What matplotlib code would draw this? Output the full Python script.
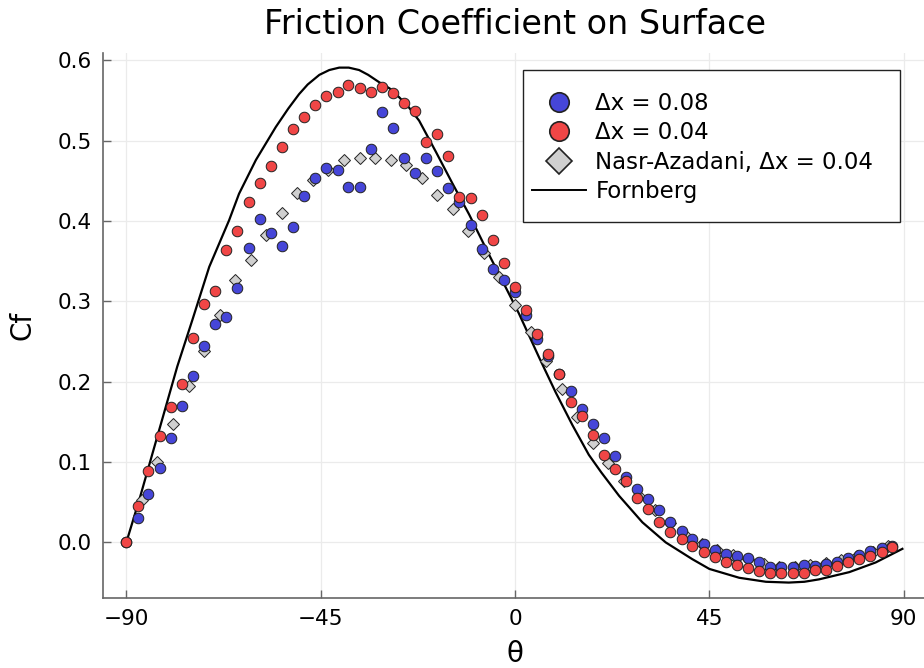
import matplotlib
matplotlib.use("Agg")
import matplotlib.pyplot as plt
from matplotlib.lines import Line2D
from matplotlib.patches import Rectangle

# --- data ---
theta_sim = [-90.0, -87.4, -84.9, -82.3, -79.7, -77.1, -74.6, -72.0, -69.4, -66.9,
             -64.3, -61.7, -59.1, -56.6, -54.0, -51.4, -48.9, -46.3, -43.7, -41.1,
             -38.6, -36.0, -33.4, -30.9, -28.3, -25.7, -23.1, -20.6, -18.0, -15.4,
             -12.9, -10.3, -7.7, -5.1, -2.6, 0.0, 2.6, 5.1, 7.7, 10.3,
             12.9, 15.4, 18.0, 20.6, 23.1, 25.7, 28.3, 30.9, 33.4, 36.0,
             38.6, 41.1, 43.7, 46.3, 48.9, 51.4, 54.0, 56.6, 59.1, 61.7,
             64.3, 66.9, 69.4, 72.0, 74.6, 77.1, 79.7, 82.3, 84.9, 87.4]

cf_dx008 = [0.000, 0.030, 0.060, 0.093, 0.130, 0.170, 0.207, 0.245, 0.272, 0.280,
            0.317, 0.366, 0.402, 0.385, 0.369, 0.392, 0.431, 0.454, 0.466, 0.463,
            0.442, 0.442, 0.490, 0.536, 0.516, 0.478, 0.460, 0.478, 0.462, 0.441,
            0.424, 0.395, 0.365, 0.340, 0.327, 0.312, 0.283, 0.253, 0.232, 0.210,
            0.188, 0.166, 0.147, 0.130, 0.108, 0.082, 0.067, 0.054, 0.040, 0.025,
            0.014, 0.004, -0.002, -0.010, -0.015, -0.017, -0.020, -0.025, -0.031, -0.031,
            -0.031, -0.028, -0.029, -0.027, -0.024, -0.020, -0.016, -0.011, -0.007, -0.004]

cf_dx004 = [0.000, 0.045, 0.089, 0.133, 0.169, 0.197, 0.254, 0.297, 0.313, 0.364,
            0.388, 0.424, 0.448, 0.468, 0.492, 0.514, 0.530, 0.545, 0.556, 0.561,
            0.569, 0.566, 0.561, 0.567, 0.560, 0.547, 0.537, 0.499, 0.508, 0.481,
            0.430, 0.429, 0.408, 0.376, 0.348, 0.318, 0.289, 0.260, 0.235, 0.210,
            0.175, 0.157, 0.134, 0.109, 0.091, 0.076, 0.055, 0.042, 0.026, 0.013,
            0.004, -0.004, -0.012, -0.018, -0.024, -0.028, -0.032, -0.036, -0.038, -0.038,
            -0.038, -0.038, -0.034, -0.034, -0.029, -0.024, -0.021, -0.017, -0.012, -0.006]

theta_nasr = [-86.4, -82.8, -79.2, -75.6, -72.0, -68.4, -64.8, -61.2, -57.6, -54.0,
              -50.4, -46.8, -43.2, -39.6, -36.0, -32.4, -28.8, -25.2, -21.6, -18.0,
              -14.4, -10.8, -7.2, -3.6, 0.0, 3.6, 7.2, 10.8, 14.4, 18.0,
              21.6, 25.2, 28.8, 32.4, 36.0, 39.6, 43.2, 46.8, 50.4, 54.0,
              57.6, 61.2, 64.8, 68.4, 72.0, 75.6, 79.2, 82.8, 86.4]
cf_nasr = [0.053, 0.100, 0.147, 0.195, 0.238, 0.283, 0.327, 0.351, 0.383, 0.410,
           0.435, 0.451, 0.463, 0.476, 0.478, 0.479, 0.476, 0.470, 0.453, 0.432,
           0.415, 0.388, 0.360, 0.330, 0.296, 0.262, 0.226, 0.191, 0.156, 0.124,
           0.099, 0.076, 0.058, 0.040, 0.024, 0.008, -0.002, -0.010, -0.016, -0.021,
           -0.027, -0.030, -0.030, -0.028, -0.026, -0.022, -0.017, -0.012, -0.005]

theta_forn = [-90, -87, -82.6, -78.2, -74.7, -70.8, -66.2, -63.9, -60, -55.4,
              -52.5, -50, -48, -45.3, -43, -40.7, -38.5, -36.1, -34, -31.5,
              -29, -26.8, -24.5, -22.2, -18.3, -14.5, -10.6, -6, -2.2, 0.9,
              5.6, 9.4, 13.3, 17.1, 20, 24.1, 29.5, 34.9, 41.1, 45,
              51.9, 58.1, 63.4, 67, 70.4, 77.4, 83.5, 89.7]
cf_forn = [0.000, 0.053, 0.136, 0.219, 0.277, 0.343, 0.401, 0.434, 0.476, 0.517,
           0.540, 0.558, 0.570, 0.582, 0.588, 0.591, 0.591, 0.588, 0.582, 0.573,
           0.565, 0.554, 0.541, 0.525, 0.486, 0.447, 0.408, 0.358, 0.318, 0.285,
           0.230, 0.187, 0.146, 0.109, 0.087, 0.058, 0.025, 0.000, -0.021, -0.033,
           -0.044, -0.049, -0.050, -0.049, -0.046, -0.037, -0.025, -0.008]

x_ticks = [-90, -45, 0, 45, 90]
y_ticks = [0.0, 0.1, 0.2, 0.3, 0.4, 0.5, 0.6]

labels = ["Δx = 0.08", "Δx = 0.04", "Nasr-Azadani, Δx = 0.04", "Fornberg"]

# --- style ---
BLUE = "#4646D8"
RED = "#F04646"
GRAY = "#D0D0D0"
W, H = 924, 668

fig = plt.figure(figsize=(W / 100, H / 100), dpi=100)
ax = fig.add_axes([103 / W, 1 - 598 / H, (927 - 103) / W, (598 - 53) / H])

ax.plot(theta_forn, cf_forn, color="black", lw=1.6, zorder=2,
        solid_joinstyle="round")
ax.plot(theta_nasr, cf_nasr, ls="none", marker="D", ms=6.6, mfc=GRAY, mec="#222222", mew=0.7, zorder=3)
ax.plot(theta_sim, cf_dx008, ls="none", marker="o", ms=7.6, mfc=BLUE, mec="#222222", mew=0.7, zorder=4)
ax.plot(theta_sim, cf_dx004, ls="none", marker="o", ms=7.6, mfc=RED, mec="#222222", mew=0.7, zorder=5)

ax.set_xlim(-95.4, 95.4)
ax.set_ylim(-0.0692, 0.6092)
ax.set_xticks(x_ticks)
ax.set_xticklabels(["−90", "−45", "0", "45", "90"])
ax.set_yticks(y_ticks)
ax.set_yticklabels([f"{v:.1f}" for v in y_ticks])

for s in ["top", "right"]:
    ax.spines[s].set_visible(False)
for s in ["left", "bottom"]:
    ax.spines[s].set_color("#666666")
    ax.spines[s].set_linewidth(1.2)
ax.tick_params(direction="in", length=6, width=1.0, color="#666666",
               labelsize=15.5, labelcolor="black")
ax.tick_params(axis="y", pad=8)
ax.tick_params(axis="x", pad=8)
ax.grid(True, color="#EBEBEB", lw=0.9)
ax.set_axisbelow(True)

ax.set_xlabel("θ", fontsize=20, labelpad=8)
ax.set_ylabel("Cf", fontsize=20, labelpad=15)
ax.set_title("Friction Coefficient on Surface", fontsize=24, pad=14)

# legend
rect = Rectangle((523 / W, 1 - 222 / H), (900 - 523) / W, (222 - 70) / H,
                 transform=fig.transFigure, facecolor="white", edgecolor="#222222",
                 lw=1.0, zorder=10)
fig.add_artist(rect)
handles = [
    Line2D([], [], ls="none", marker="o", ms=14, mfc=BLUE, mec="#222222", mew=1.2),
    Line2D([], [], ls="none", marker="o", ms=14, mfc=RED, mec="#222222", mew=1.2),
    Line2D([], [], ls="none", marker="D", ms=13, mfc=GRAY, mec="#222222", mew=1.2),
    Line2D([], [], color="black", lw=1.4),
]
leg = fig.legend(handles, labels, loc="upper left",
                 bbox_to_anchor=(532 / W, 1 - 92 / H),
                 frameon=False, fontsize=16.5, borderpad=0, borderaxespad=0,
                 handlelength=2.36, handletextpad=0.4, labelspacing=0.275)
leg.set_zorder(11)

fig.savefig("out.png", dpi=100)
